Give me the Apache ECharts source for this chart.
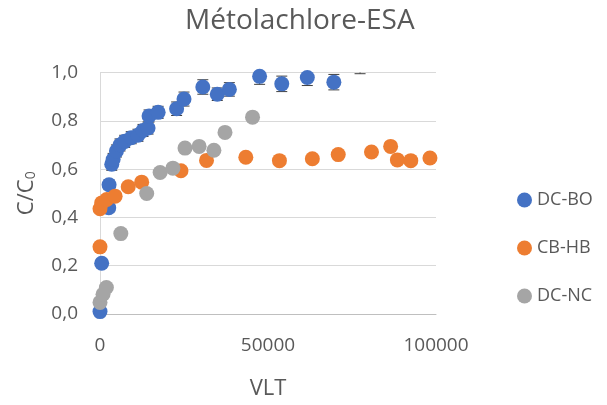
<!DOCTYPE html>
<html>
<head>
<meta charset="utf-8">
<script src="https://cdn.jsdelivr.net/npm/echarts@6/dist/echarts.min.js"></script>
<style>html,body{margin:0;padding:0;background:#fff}#c{width:607px;height:405px}</style>
</head>
<body>
<div id="c"></div>
<script>
const titleText = 'Métolachlore-ESA';
const seriesNames = ['DC-BO', 'CB-HB', 'DC-NC'];
const colors = ['#4472C4', '#ED7D31', '#A5A5A5'];
const xTicks = [0, 50000, 100000];
const yTicks = [0, 0.2, 0.4, 0.6, 0.8, 1.0];

const dcboX = [0, 500, 2600, 2700, 3500, 3900, 4900, 5950, 7350, 9300, 11300, 12800, 14300, 14600, 17300, 22800, 25000, 30600, 34900, 38500, 47500, 54100, 61700, 69600, 77400];
const dcboY = [0.01, 0.21, 0.44, 0.535, 0.62, 0.64, 0.675, 0.70, 0.715, 0.73, 0.74, 0.76, 0.77, 0.82, 0.835, 0.85, 0.89, 0.94, 0.91, 0.93, 0.984, 0.953, 0.979, 0.96, 1.025];
const dcboErr = [0.01, 0.015, 0.02, 0.02, 0.025, 0.025, 0.025, 0.025, 0.025, 0.025, 0.025, 0.025, 0.025, 0.025, 0.025, 0.028, 0.029, 0.03, 0.026, 0.028, 0.033, 0.032, 0.033, 0.032, 0.03];

const cbhbX = [0, 0, 500, 2000, 4500, 8400, 12400, 24100, 31700, 43400, 53400, 63200, 70900, 80800, 86500, 88500, 92500, 98200];
const cbhbY = [0.278, 0.436, 0.46, 0.474, 0.488, 0.527, 0.546, 0.593, 0.636, 0.649, 0.635, 0.643, 0.66, 0.671, 0.694, 0.638, 0.635, 0.646];

const dcncX = [0, 900, 1900, 6200, 13900, 17900, 21700, 25300, 29500, 33900, 37200, 45400];
const dcncY = [0.048, 0.082, 0.11, 0.333, 0.499, 0.586, 0.604, 0.687, 0.694, 0.678, 0.752, 0.815];

const zip = (xs, ys) => xs.map((x, i) => [x, ys[i]]);
const FONT = 'Open Sans';
const TXT = '#595959';

function renderErr(params, api) {
  const x = api.value(0), y = api.value(1), e = api.value(2);
  const hi = api.coord([x, y + e]);
  const lo = api.coord([x, y - e]);
  const cw = 5.5;
  const style = { stroke: '#3F3F3F', lineWidth: 1, fill: null };
  return {
    type: 'group',
    children: [
      { type: 'line', shape: { x1: hi[0], y1: hi[1], x2: lo[0], y2: lo[1] }, style: style },
      { type: 'line', shape: { x1: hi[0] - cw, y1: hi[1], x2: hi[0] + cw, y2: hi[1] }, style: style },
      { type: 'line', shape: { x1: lo[0] - cw, y1: lo[1], x2: lo[0] + cw, y2: lo[1] }, style: style }
    ]
  };
}

const chart = echarts.init(document.getElementById('c'), null, { renderer: 'canvas' });
chart.setOption({
  animation: false,
  backgroundColor: '#fff',
  title: {
    text: titleText,
    left: 180,
    top: 2,
    textStyle: { fontFamily: FONT, fontSize: 28, fontWeight: 'normal', color: TXT }
  },
  legend: {
    orient: 'vertical',
    left: 512,
    top: 186,
    itemWidth: 15,
    itemHeight: 15,
    itemGap: 30,
    icon: 'circle',
    data: seriesNames,
    textStyle: { fontFamily: FONT, fontSize: 18, color: TXT, lineHeight: 15 }
  },
  grid: { left: 100, right: 171, top: 72.5, bottom: 90, containLabel: false },
  xAxis: {
    type: 'value',
    min: xTicks[0],
    max: xTicks[xTicks.length - 1],
    interval: xTicks[1] - xTicks[0],
    name: 'VLT',
    nameLocation: 'middle',
    nameGap: 64,
    nameTextStyle: { fontFamily: FONT, fontSize: 22, color: TXT },
    axisLine: { show: true, lineStyle: { color: '#BFBFBF', width: 1 } },
    axisTick: { show: false },
    splitLine: { show: false },
    axisLabel: { fontFamily: FONT, fontSize: 19, color: TXT, margin: 22, formatter: v => String(v) }
  },
  yAxis: {
    type: 'value',
    min: yTicks[0],
    max: yTicks[yTicks.length - 1],
    interval: 0.2,
    name: 'C/C{sub|0}',
    nameLocation: 'middle',
    nameRotate: 90,
    nameGap: 62,
    nameTextStyle: {
      fontFamily: FONT, fontSize: 22, color: TXT,
      rich: { sub: { fontFamily: FONT, fontSize: 14, color: TXT, verticalAlign: 'bottom', padding: [9, 0, 0, 0] } }
    },
    axisLine: { show: true, lineStyle: { color: '#D9D9D9', width: 1 } },
    axisTick: { show: false },
    splitLine: { show: true, lineStyle: { color: '#D9D9D9', width: 1 } },
    axisLabel: {
      fontFamily: FONT, fontSize: 19, color: TXT, margin: 22,
      formatter: v => v.toFixed(1).replace('.', ',')
    }
  },
  series: [
    {
      type: 'custom',
      name: 'err',
      renderItem: renderErr,
      data: dcboX.map((x, i) => [x, dcboY[i], dcboErr[i]]),
      encode: { x: 0, y: 1 },
      clip: true,
      z: 1,
      silent: true
    },
    {
      type: 'scatter', name: seriesNames[0], data: zip(dcboX, dcboY),
      symbolSize: 15, itemStyle: { color: colors[0], opacity: 1 }, clip: true, z: 2
    },
    {
      type: 'scatter', name: seriesNames[1], data: zip(cbhbX, cbhbY),
      symbolSize: 15, itemStyle: { color: colors[1], opacity: 1 }, clip: true, z: 3
    },
    {
      type: 'scatter', name: seriesNames[2], data: zip(dcncX, dcncY),
      symbolSize: 15, itemStyle: { color: colors[2], opacity: 1 }, clip: true, z: 4
    }
  ]
});
</script>
</body>
</html>
